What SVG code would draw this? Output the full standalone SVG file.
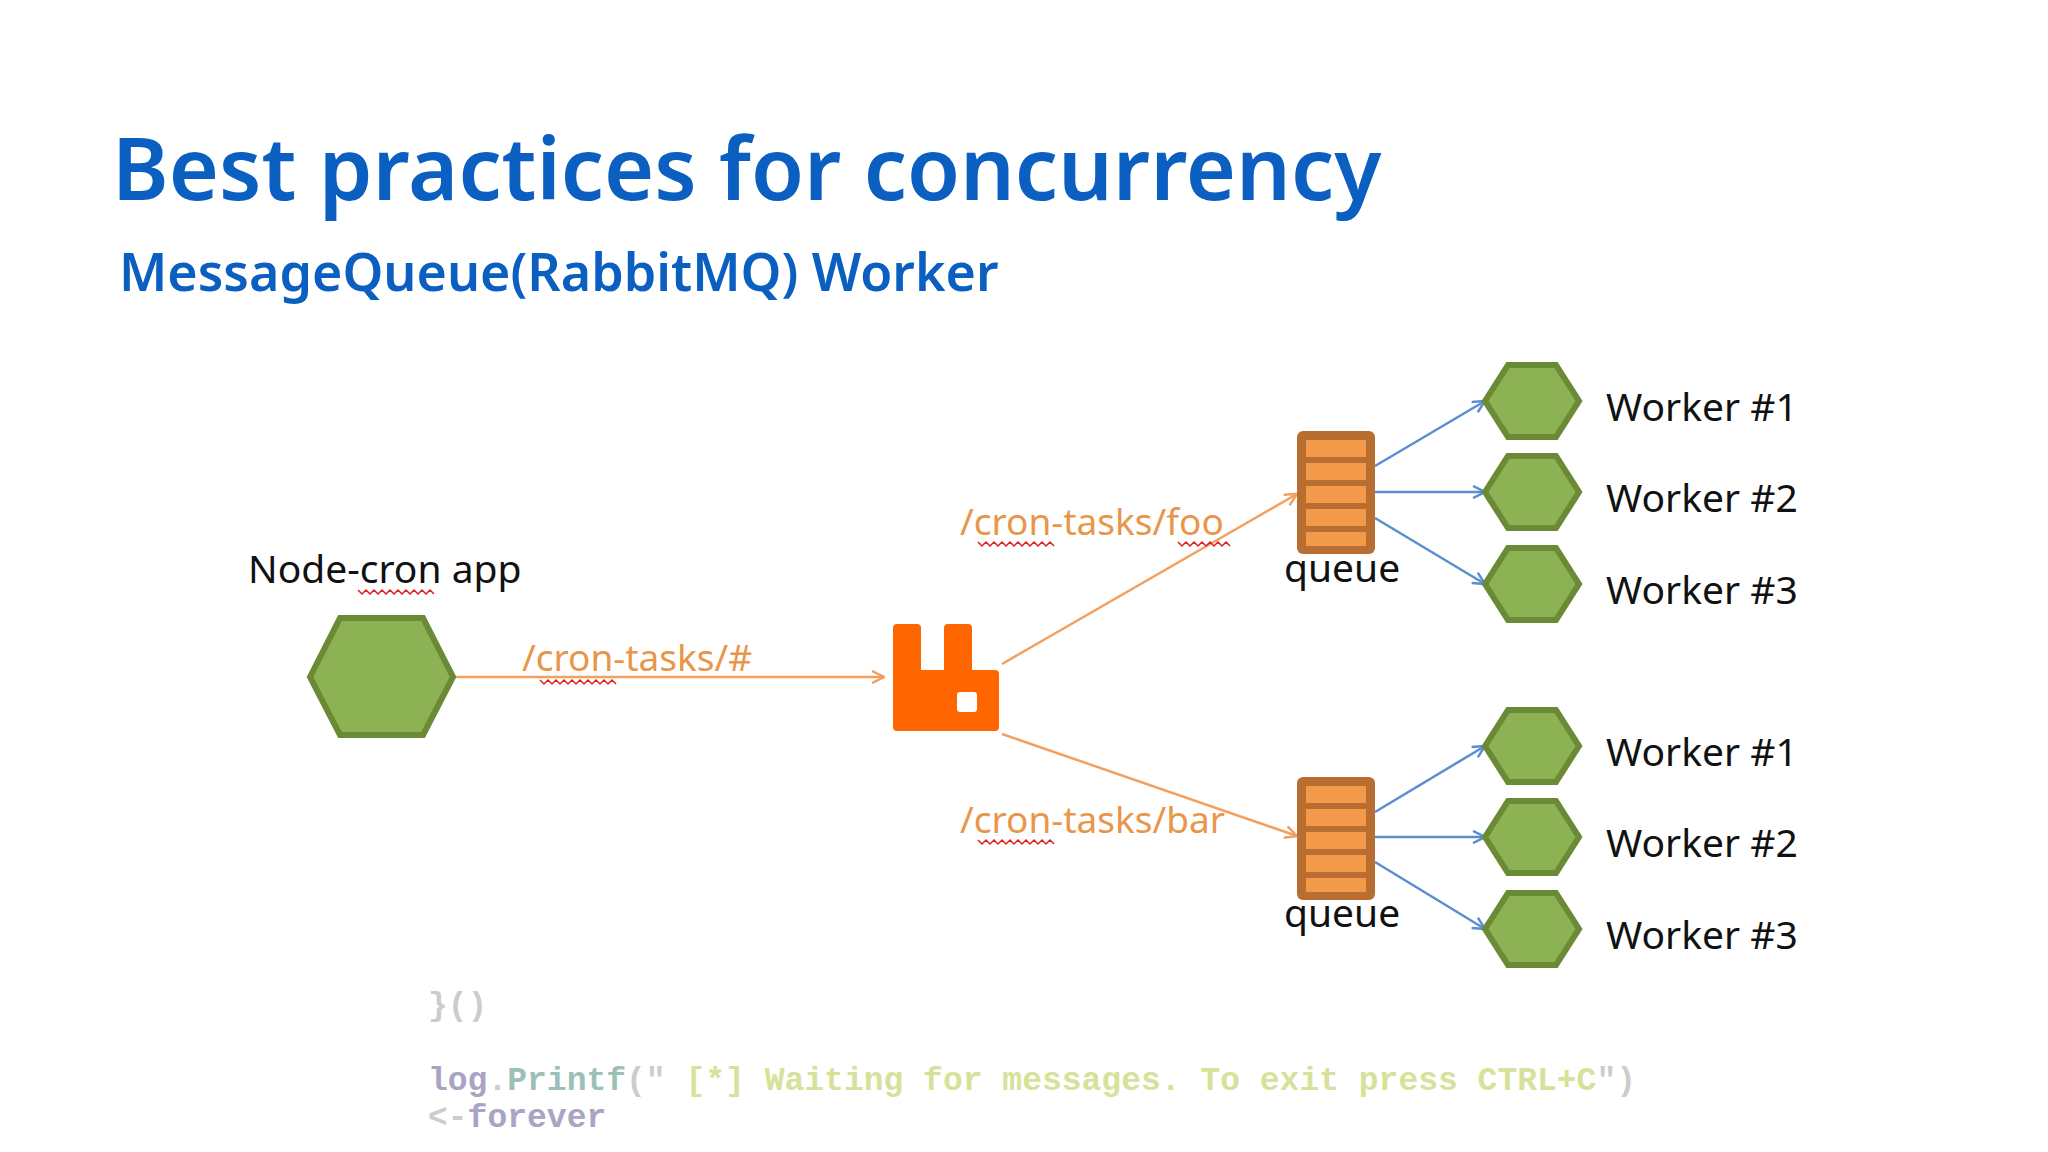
<svg xmlns="http://www.w3.org/2000/svg" width="2048" height="1152" viewBox="0 0 2048 1152">
<defs>
<style>
.t{font-family:"Noto Sans","Open Sans",sans-serif;fill:#0a5fc0;font-weight:600}
.lbl{font-family:"Noto Sans","Open Sans",sans-serif;font-size:39px;fill:#111}
.or{font-family:"Noto Sans","Open Sans",sans-serif;font-size:37px;fill:#e8964a}
.hex{fill:#8db254;stroke:#6a8a35;stroke-width:6}
.q{fill:#b86e30}
.qb{fill:#f2994a}
.oa{stroke:#f2a060;stroke-width:2.5;fill:none}
.ba{stroke:#5b8ed0;stroke-width:2.5;fill:none}
.sq{stroke:#e02020;stroke-width:1.5;fill:none}
.code{font-family:"Liberation Mono",monospace;font-size:33px;font-weight:bold}
</style>
<marker id="mo" markerWidth="14" markerHeight="14" refX="13" refY="7" orient="auto" markerUnits="userSpaceOnUse"><path d="M1,1 L13,7 L1,13" fill="none" stroke="#f2a060" stroke-width="2.5"/></marker>
<marker id="mb" markerWidth="14" markerHeight="14" refX="13" refY="7" orient="auto" markerUnits="userSpaceOnUse"><path d="M1,1 L13,7 L1,13" fill="none" stroke="#5b8ed0" stroke-width="2.5"/></marker>
<g id="hexw"><polygon class="hex" points="-47,0 -24,-36 24,-36 47,0 24,36 -24,36"/></g>
<g id="queue"><rect class="q" x="0" y="0" width="78" height="123" rx="6"/><rect class="qb" x="9" y="9" width="60" height="17"/><rect class="qb" x="9" y="32" width="60" height="17"/><rect class="qb" x="9" y="55" width="60" height="17"/><rect class="qb" x="9" y="78" width="60" height="17"/><rect class="qb" x="9" y="101" width="60" height="14"/></g>
</defs>
<rect width="2048" height="1152" fill="#fff"/>
<text class="t" x="112" y="200" font-size="86">Best practices for concurrency</text>
<text class="t" x="119" y="291" font-size="52">MessageQueue(RabbitMQ) Worker</text>

<g id="connectors">
<line class="oa" x1="453" y1="677" x2="884" y2="677" marker-end="url(#mo)"/>
<line class="oa" x1="1002" y1="664" x2="1297" y2="494" marker-end="url(#mo)"/>
<line class="oa" x1="1002" y1="734" x2="1297" y2="836" marker-end="url(#mo)"/>
<line class="ba" x1="1375" y1="466" x2="1485" y2="401" marker-end="url(#mb)"/>
<line class="ba" x1="1375" y1="492" x2="1485" y2="492" marker-end="url(#mb)"/>
<line class="ba" x1="1375" y1="518" x2="1485" y2="584" marker-end="url(#mb)"/>
<line class="ba" x1="1375" y1="812" x2="1485" y2="746" marker-end="url(#mb)"/>
<line class="ba" x1="1375" y1="837" x2="1485" y2="837" marker-end="url(#mb)"/>
<line class="ba" x1="1375" y1="862" x2="1485" y2="929" marker-end="url(#mb)"/>
<text class="or" x="522" y="671">/cron-tasks/#</text>
<text class="or" x="960" y="535">/cron-tasks/foo</text>
<text class="or" x="960" y="833">/cron-tasks/bar</text>
<path class="sq" d="M540,680 l4,4 4,-4 4,4 4,-4 4,4 4,-4 4,4 4,-4 4,4 4,-4 4,4 4,-4 4,4 4,-4 4,4 4,-4 4,4 4,-4 4,4"/>
<path class="sq" d="M978,542 l4,4 4,-4 4,4 4,-4 4,4 4,-4 4,4 4,-4 4,4 4,-4 4,4 4,-4 4,4 4,-4 4,4 4,-4 4,4 4,-4 4,4"/>
<path class="sq" d="M1178,542 l4,4 4,-4 4,4 4,-4 4,4 4,-4 4,4 4,-4 4,4 4,-4 4,4 4,-4 4,4"/>
<path class="sq" d="M978,840 l4,4 4,-4 4,4 4,-4 4,4 4,-4 4,4 4,-4 4,4 4,-4 4,4 4,-4 4,4 4,-4 4,4 4,-4 4,4 4,-4 4,4"/>
</g>

<g id="node-cron"><polygon class="hex" points="310,677 340,618 423,618 453,677 423,735 340,735"/>
<text class="lbl" x="248" y="583">Node-cron app</text>
<path class="sq" d="M358,590 l4,4 4,-4 4,4 4,-4 4,4 4,-4 4,4 4,-4 4,4 4,-4 4,4 4,-4 4,4 4,-4 4,4 4,-4 4,4 4,-4 4,4"/></g>

<g id="rabbitmq"><path fill="#ff6600" d="M897,624 h20 a4,4 0 0 1 4,4 v42 h23 v-42 a4,4 0 0 1 4,-4 h20 a4,4 0 0 1 4,4 v42 h23 a4,4 0 0 1 4,4 v53 a4,4 0 0 1 -4,4 h-98 a4,4 0 0 1 -4,-4 v-99 a4,4 0 0 1 4,-4 z"/><rect x="957" y="692" width="20" height="20" rx="3" fill="#fff"/></g>

<g id="queue1"><use href="#queue" x="1297" y="431"/><text class="lbl" x="1284" y="582">queue</text></g>
<g id="queue2"><use href="#queue" x="1297" y="777"/><text class="lbl" x="1284" y="927">queue</text></g>

<g id="w1a"><use href="#hexw" x="1532" y="401"/><text class="lbl" x="1606" y="421">Worker #1</text></g>
<g id="w2a"><use href="#hexw" x="1532" y="492"/><text class="lbl" x="1606" y="512">Worker #2</text></g>
<g id="w3a"><use href="#hexw" x="1532" y="584"/><text class="lbl" x="1606" y="604">Worker #3</text></g>
<g id="w1b"><use href="#hexw" x="1532" y="746"/><text class="lbl" x="1606" y="766">Worker #1</text></g>
<g id="w2b"><use href="#hexw" x="1532" y="837"/><text class="lbl" x="1606" y="857">Worker #2</text></g>
<g id="w3b"><use href="#hexw" x="1532" y="929"/><text class="lbl" x="1606" y="949">Worker #3</text></g>

<text class="code" x="428" y="1015" fill="#ccc">}()</text>
<text class="code" x="428" y="1090"><tspan fill="#a8a4c4">log</tspan><tspan fill="#ccc">.</tspan><tspan fill="#9cc0b8">Printf</tspan><tspan fill="#ccc">("</tspan><tspan fill="#d6e29a"> [*] Waiting for messages. To exit press CTRL+C</tspan><tspan fill="#ccc">")</tspan></text>
<text class="code" x="428" y="1127"><tspan fill="#ccc">&lt;-</tspan><tspan fill="#a8a4c4">forever</tspan></text>
</svg>
